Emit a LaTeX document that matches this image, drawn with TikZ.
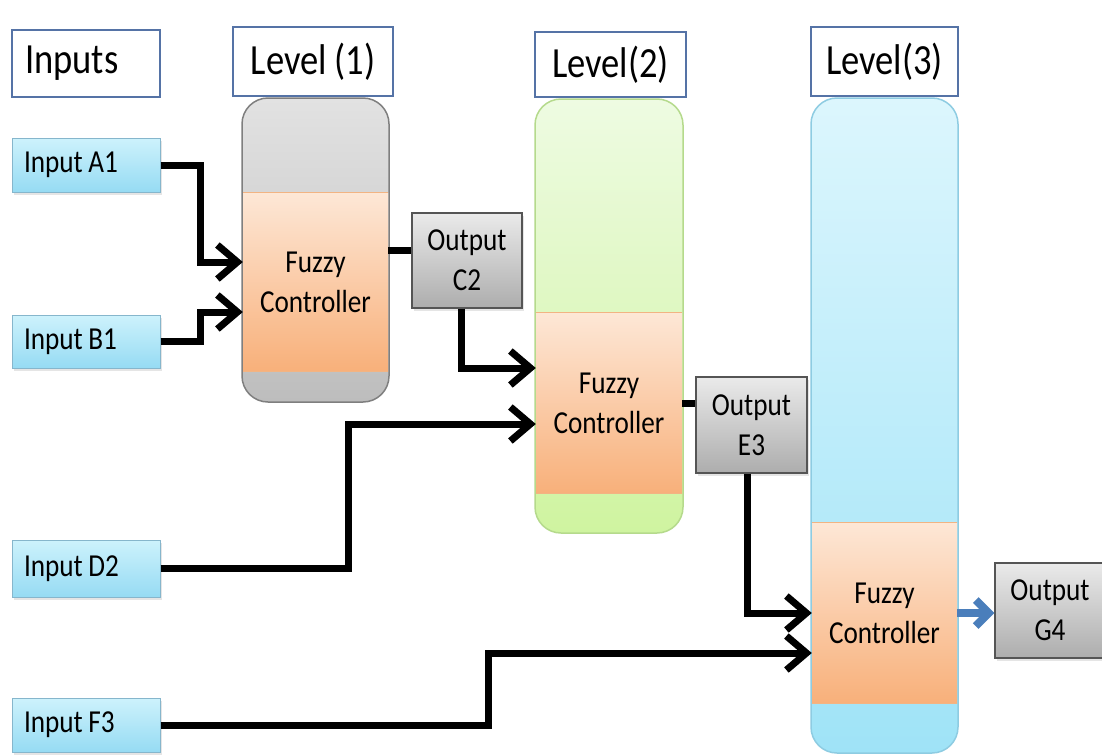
\documentclass[tikz,border=0pt]{standalone}
\usepackage{fontspec}
\setmainfont{Carlito}[FakeStretch=0.85, WordSpace=0.9]
\usetikzlibrary{arrows.meta,calc,shadows}

\definecolor{hdrline}{HTML}{5573A6}
\definecolor{inTop}{HTML}{CDF2FC}
\definecolor{inBot}{HTML}{96DBF3}
\definecolor{inLine}{HTML}{86B6CC}
\definecolor{outTop}{HTML}{EAEAEA}
\definecolor{outBot}{HTML}{ADADAD}
\definecolor{outLine}{HTML}{555555}
\definecolor{orTop}{HTML}{FDE7D6}
\definecolor{orBot}{HTML}{F8B07A}
\definecolor{orLine}{HTML}{F2B483}
\definecolor{grTop}{HTML}{E2E2E2}
\definecolor{grBot}{HTML}{BDBDBD}
\definecolor{grLine}{HTML}{7F7F7F}
\definecolor{gnTop}{HTML}{EEFBE2}
\definecolor{gnBot}{HTML}{CFF4A0}
\definecolor{gnLine}{HTML}{B5DA8C}
\definecolor{blTop}{HTML}{DCF6FD}
\definecolor{blBot}{HTML}{9FE3F7}
\definecolor{blLine}{HTML}{8ECCE2}
\definecolor{outArrow}{HTML}{4A7EBB}

\begin{document}
\begin{tikzpicture}[x=1pt,y=-1pt,
  softshadow/.style={drop shadow={opacity=0.2, shadow xshift=2pt, shadow yshift=-2.5pt}},
  hdr/.style={draw=hdrline, line width=2.8pt, fill=white,
    font=\fontsize{43}{48}\selectfont, inner sep=0pt},
  inbox/.style={draw=inLine, line width=1pt, top color=inTop, bottom color=inBot,
    softshadow,
    minimum width=148pt, text width=124pt, inner xsep=12pt, inner ysep=0pt,
    align=flush left, font=\fontsize{32}{40}\selectfont},
  outbox/.style={draw=outLine, line width=1.2pt, top color=outTop, bottom color=outBot,
    softshadow,
    minimum width=110pt, minimum height=95pt, inner sep=0pt, align=center,
    font=\fontsize{32}{40}\selectfont},
  column/.style={rounded corners=26pt, line width=1.5pt, inner sep=0pt},
  fuzzy/.style={top color=orTop, bottom color=orBot, inner sep=0pt, align=center,
    font=\fontsize{32}{40}\selectfont},
  conn/.style={line width=7pt, black, -{Straight Barb[length=20pt,width=34pt]}},
  link/.style={line width=7pt, black},
  result/.style={line width=8pt, outArrow, -{Straight Barb[length=13pt,width=26pt]}}]

\useasboundingbox (0,0) rectangle (1102,755);
\fill[white] (0,0) rectangle (1102,755);

% column headers
\node[hdr, text width=122pt, inner xsep=13pt, minimum height=67pt, align=flush left]
  (hIn) at (86,63.5) {Inputs};
\node[hdr, minimum width=160pt, minimum height=69pt] (hL1) at (313,61.5) {Level (1)};
\node[hdr, minimum width=151pt, minimum height=65pt] (hL2) at (610.5,64.5) {Level(2)};
\node[hdr, minimum width=147pt, minimum height=69pt] (hL3) at (884.5,61.5) {Level(3)};

% level columns
\node[column, draw=grLine, top color=grTop, bottom color=grBot,
  minimum width=147pt, minimum height=304pt] (L1) at (315.5,250) {};
\node[column, draw=gnLine, top color=gnTop, bottom color=gnBot,
  minimum width=148pt, minimum height=434pt] (L2) at (609,316) {};
\node[column, draw=blLine, top color=blTop, bottom color=blBot,
  minimum width=147pt, minimum height=655pt] (L3) at (884.5,425.5) {};

% fuzzy controllers
\node[fuzzy, minimum width=145pt, minimum height=178pt] (fc1) at (315.5,282) {Fuzzy\\Controller};
\node[fuzzy, minimum width=146pt, minimum height=180pt] (fc2) at (609,403) {Fuzzy\\Controller};
\node[fuzzy, minimum width=145pt, minimum height=180pt] (fc3) at (884.5,613) {Fuzzy\\Controller};
\foreach \f in {fc1,fc2,fc3}{
  \draw[orLine, line width=0.8pt] (\f.north west) -- (\f.north east)
    (\f.south west) -- (\f.south east);
}

% inputs
\node[inbox, minimum height=54pt] (A1) at (86,165) {Input A1};
\node[inbox, minimum height=53pt] (B1) at (86,341.5) {Input B1};
\node[inbox, minimum height=57pt] (D2) at (86,568.5) {Input D2};
\node[inbox, minimum height=54pt] (F3) at (86,725) {Input F3};

% outputs
\node[outbox] (C2) at (467,260.5) {Output\\C2};
\node[outbox, minimum width=111pt, minimum height=96pt] (E3) at (751.5,425) {Output\\E3};
\node[outbox] (G4) at (1050,610.5) {Output\\G4};

% connectors
\draw[conn] (A1.east) -- ++(40,0) |- ($(fc1.west)+(0,-20)$);
\draw[conn] (B1.east) -- ++(40,0) |- ($(fc1.west)+(0,30)$);
\draw[link] ($(fc1.east)+(0,-32)$) coordinate (o1) -- (o1 -| C2.west);
\draw[conn] ($(C2.south)+(-6,0)$) |- ($(fc2.west)+(0,-35)$);
\draw[conn] (D2.east) -- ++(188,0) |- ($(fc2.west)+(0,21)$);
\draw[link] (fc2.east) -- (fc2.east -| E3.west);
\draw[conn] ($(E3.south)+(-4.5,0)$) |- (fc3.west);
\draw[conn] (F3.east) -- ++(328,0) |- ($(fc3.west)+(0,40)$);
\draw[result] (fc3.east) -- (fc3.east -| G4.west);

\end{tikzpicture}
\end{document}
